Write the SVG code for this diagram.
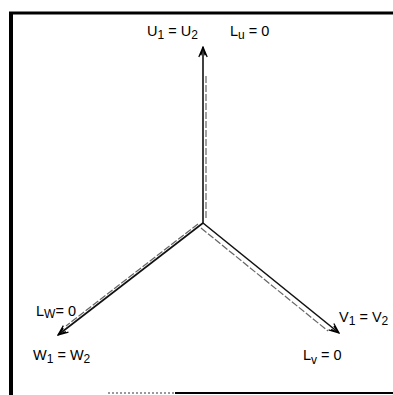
<svg xmlns="http://www.w3.org/2000/svg" width="393" height="395" viewBox="0 0 393 395">
<style>
.frame{stroke:#000;fill:none}
.ax{stroke:#111;stroke-width:1.6;fill:none}
.dash{stroke:#666;stroke-width:1.2;stroke-dasharray:7 2;fill:none}
.lbl{font-family:"Liberation Sans Narrow","Liberation Sans",Arial,sans-serif;font-size:14.5px;fill:#000}
.sub{font-size:12px}
</style>
<defs>
<marker id="ah" viewBox="0 0 14 12" refX="13" refY="6" markerWidth="12" markerHeight="10" markerUnits="userSpaceOnUse" orient="auto">
<path d="M1,1 L13,6 L1,11 M3,3.5 L13,6 L3,8.5" fill="none" stroke="#000" stroke-width="1.5"/>
</marker>
</defs>
<g id="frame">
<line class="frame" x1="9" y1="13" x2="393" y2="13" stroke-width="3"/>
<line class="frame" x1="11" y1="12" x2="11" y2="395" stroke-width="4"/>
<line class="frame" x1="175" y1="393" x2="393" y2="393" stroke-width="2"/>
<line x1="108" y1="393" x2="175" y2="393" stroke="#999" stroke-width="2" stroke-dasharray="2 2"/>
</g>
<g id="connectors">
<line class="ax" x1="203" y1="223" x2="203" y2="47" marker-end="url(#ah)"/>
<line class="dash" x1="206" y1="218" x2="206" y2="75"/>
<line class="ax" x1="203" y1="223" x2="58" y2="335" marker-end="url(#ah)"/>
<line class="dash" x1="198" y1="224" x2="66" y2="326"/>
<line class="ax" x1="203" y1="223" x2="339" y2="333" marker-end="url(#ah)"/>
<line class="dash" x1="201" y1="228" x2="328" y2="331"/>
</g>
<g id="node-u">
<text class="lbl" x="147" y="36">U<tspan class="sub" dy="3">1</tspan><tspan dy="-3"> = U</tspan><tspan class="sub" dy="3">2</tspan></text>
<text class="lbl" x="230" y="36">L<tspan class="sub" dy="3">u</tspan><tspan dy="-3"> = 0</tspan></text>
</g>
<g id="node-w">
<text class="lbl" x="36" y="316">L<tspan class="sub" dy="2">W</tspan><tspan dy="-2">= 0</tspan></text>
<text class="lbl" x="33" y="360">W<tspan class="sub" dy="3">1</tspan><tspan dy="-3"> = W</tspan><tspan class="sub" dy="3">2</tspan></text>
</g>
<g id="node-v">
<text class="lbl" x="339" y="322">V<tspan class="sub" dy="3">1</tspan><tspan dy="-3"> = V</tspan><tspan class="sub" dy="3">2</tspan></text>
<text class="lbl" x="303" y="360">L<tspan class="sub" dy="4">v</tspan><tspan dy="-4"> = 0</tspan></text>
</g>
</svg>
